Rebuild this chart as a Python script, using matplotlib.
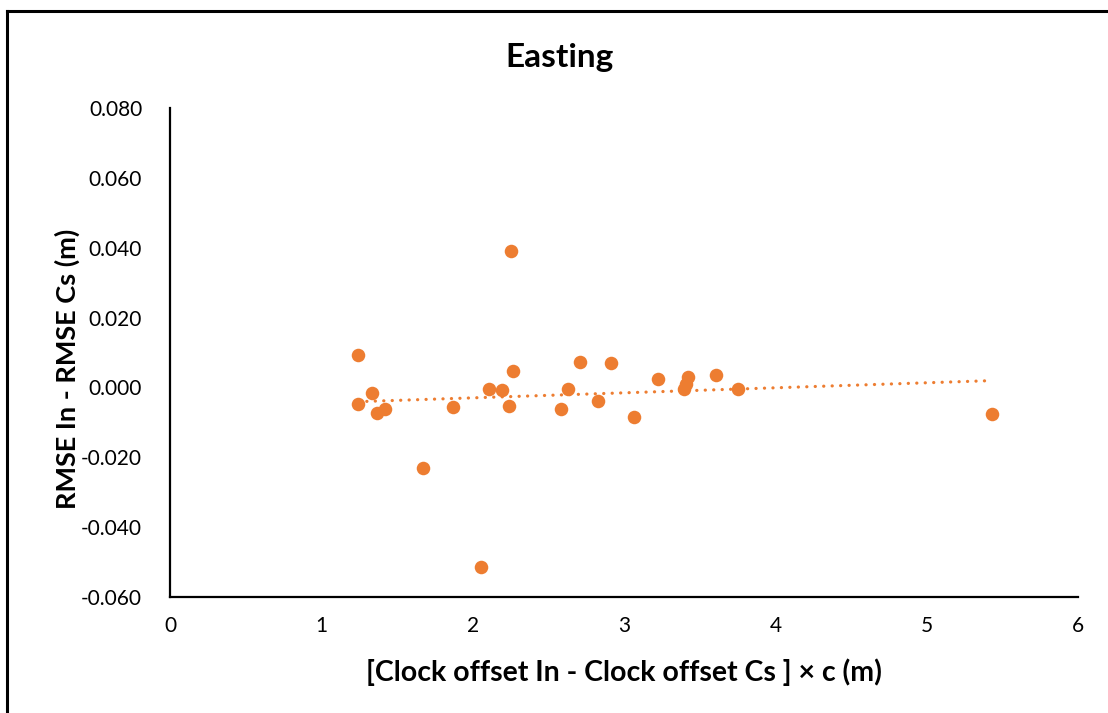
import numpy as np
import matplotlib
matplotlib.use("Agg")
import matplotlib.pyplot as plt
from matplotlib.lines import Line2D

# Clock offset difference (m) vs. RMSE difference (m), Easting component
clock_offset_diff = [1.244, 1.244, 1.336, 1.369, 1.420, 1.671, 1.871, 2.056, 2.107,
                     2.191, 2.239, 2.253, 2.266, 2.581, 2.631, 2.708, 2.829, 2.915,
                     3.063, 3.226, 3.395, 3.409, 3.422, 3.605, 3.752, 5.432]
rmse_diff = [0.0093, -0.0048, -0.0015, -0.0074, -0.0062, -0.0232, -0.0057, -0.0516,
             -0.0005, -0.0008, -0.0053, 0.0392, 0.0046, -0.0063, -0.0005, 0.0074,
             -0.0040, 0.0071, -0.0084, 0.0023, -0.0005, 0.0010, 0.0030, 0.0035,
             -0.0005, -0.0077]

x_ticks = [0, 1, 2, 3, 4, 5, 6]
y_ticks = [-0.06, -0.04, -0.02, 0.0, 0.02, 0.04, 0.06, 0.08]

title = "Easting"
x_label = "[Clock offset In - Clock offset Cs ] \u00d7 c (m)"
y_label = "RMSE In - RMSE Cs (m)"

orange = "#ED7D31"
font = "Lato"

W, H = 1108, 713
fig = plt.figure(figsize=(W / 100, H / 100), dpi=100)
fig.patch.set_facecolor("white")

ax = fig.add_axes([170 / W, 1 - 596.7 / H, 908.3 / W, 488.4 / H])

x = np.array(clock_offset_diff)
y = np.array(rmse_diff)

ax.scatter(x, y, s=95, color=orange, zorder=3, linewidths=0)

# linear trendline
slope, intercept = np.polyfit(x, y, 1)
xt = np.array([x.min(), x.max()])
ax.plot(xt, slope * xt + intercept, color=orange, lw=2.3,
        linestyle=(0, (0.05, 2.6)), dash_capstyle="round", zorder=2)

ax.set_xlim(0, 6)
ax.set_ylim(-0.06, 0.08)
ax.set_xticks(x_ticks)
ax.set_yticks(y_ticks)
ax.set_xticklabels([str(t) for t in x_ticks])
ax.set_yticklabels([f"{t:.3f}" for t in y_ticks])

for s in ("top", "right"):
    ax.spines[s].set_visible(False)
for s in ("left", "bottom"):
    ax.spines[s].set_linewidth(1.6)
    ax.spines[s].set_color("black")

ax.tick_params(axis="both", length=0, labelsize=15, colors="black")
ax.tick_params(axis="x", pad=14)
ax.tick_params(axis="y", pad=20)
for lab in ax.get_xticklabels() + ax.get_yticklabels():
    lab.set_fontfamily(font)

fig.text(560 / W, 1 - 57 / H, title, ha="center", va="center",
         fontsize=24, fontweight="bold", family=font)
fig.text(624 / W, 1 - 672 / H, x_label, ha="center", va="center",
         fontsize=20.5, fontweight="bold", family=font)
fig.text(67 / W, 1 - 369 / H, y_label, ha="center", va="center", rotation=90,
         fontsize=19.5, fontweight="bold", family=font)

# frame lines along the top and left edges
fig.add_artist(Line2D([7 / W, 1.0], [1 - 11 / H, 1 - 11 / H], color="black",
                      lw=2.2, transform=fig.transFigure))
fig.add_artist(Line2D([7 / W, 7 / W], [1 - 11 / H, 0.0], color="black",
                      lw=2.2, transform=fig.transFigure))

fig.savefig("out.png", dpi=100, facecolor="white")
